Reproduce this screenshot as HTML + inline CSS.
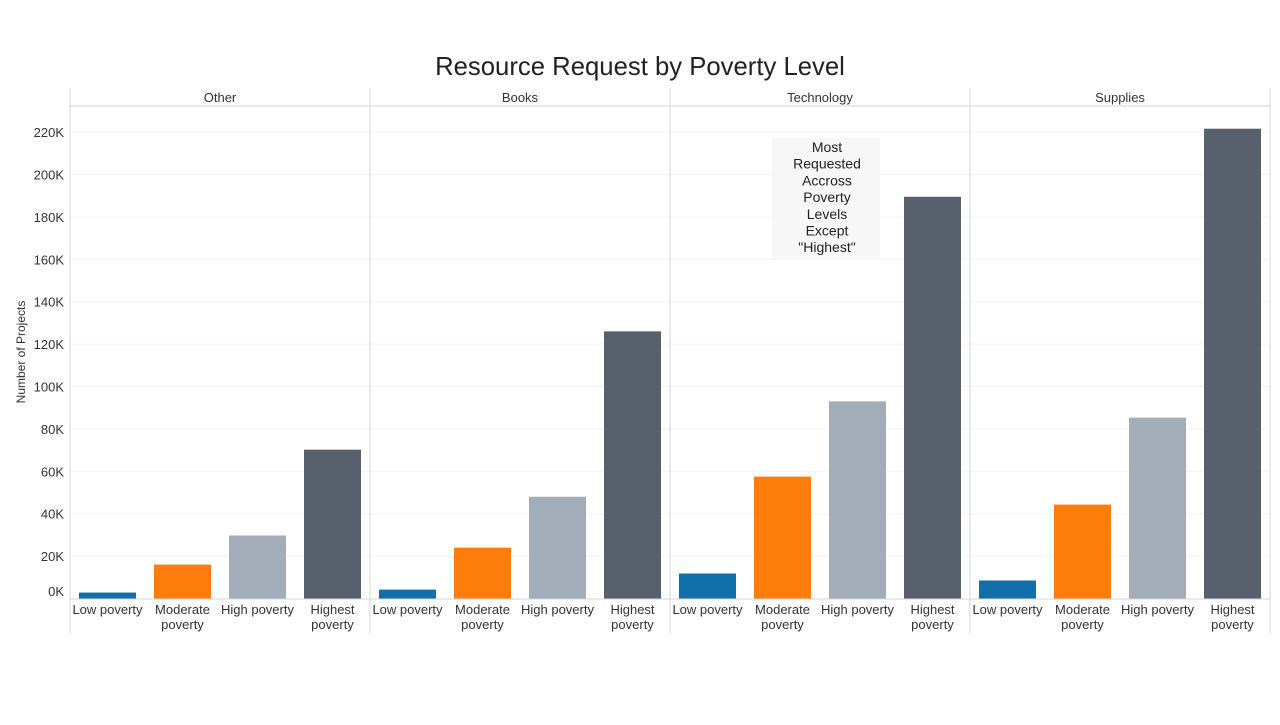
<!DOCTYPE html>
<html><head><meta charset="utf-8"><style>
body{margin:0;background:#fff;font-family:"Liberation Sans",Arial,sans-serif}
svg text{font-family:"Liberation Sans",Arial,sans-serif}
</style></head><body>
<svg id="c" width="1280" height="720" xmlns="http://www.w3.org/2000/svg">
<text x="640" y="75" text-anchor="middle" font-size="25.7" fill="#222">Resource Request by Poverty Level</text>
<text transform="translate(25,352) rotate(-90)" text-anchor="middle" font-size="12" fill="#333">Number of Projects</text>
<g id="grid"></g><g id="bars"></g><g id="frame"></g>
<g>
<rect x="772" y="138" width="108" height="122" fill="#f7f7f7"/>
<text x="827" y="152" text-anchor="middle" font-size="14" fill="#222">
<tspan x="827" dy="0">Most</tspan><tspan x="827" dy="16.7">Requested</tspan><tspan x="827" dy="16.7">Accross</tspan><tspan x="827" dy="16.7">Poverty</tspan><tspan x="827" dy="16.7">Levels</tspan><tspan x="827" dy="16.7">Except</tspan><tspan x="827" dy="16.7">"Highest"</tspan></text>
</g>
</svg>
<script>
const panels=["Other","Books","Technology","Supplies"];
const levels=["Low poverty","Moderate poverty","High poverty","Highest poverty"];
const other=[2.8,16,29.7,70.2];
const books=[4.2,24,48,126];
const technology=[11.8,57.5,93,189.5];
const supplies=[8.5,44.3,85.3,221.6];
const yTicks=[0,20,40,60,80,100,120,140,160,180,200,220];
const series=[other,books,technology,supplies];
const colors=["#1170aa","#fc7d0b","#a3acb9","#57606c"];
const NS="http://www.w3.org/2000/svg";
const y=v=>598.5-v*2.12;
const px=i=>70+i*300;
function mk(t,a,p){const e=document.createElementNS(NS,t);for(const k in a)e.setAttribute(k,a[k]);p.appendChild(e);return e;}
const g=document.getElementById('grid'),b=document.getElementById('bars'),f=document.getElementById('frame');
yTicks.forEach(t=>{
  if(t>0){const l=mk('line',{x1:70,x2:1270,y1:y(t),y2:y(t),stroke:'#f3f3f3','stroke-width':1},g);
  
  }
  const tx=mk('text',{x:64,y:t===0?596:y(t)+5,'text-anchor':'end','font-size':13,fill:'#333'},g);
  tx.textContent=t+'K';
  
  
});
panels.forEach((p,i)=>{
  const h=mk('text',{x:px(i)+150,y:102,'text-anchor':'middle','font-size':13,fill:'#333'},f);
  h.textContent=p;
  
  
  series[i].forEach((v,j)=>{
    const cx=px(i)+37.5+75*j;
    const r=mk('rect',{x:cx-28.5,y:y(v),width:57,height:598.5-y(v),fill:colors[j]},b);
    
    
    const words=levels[j].split(' ');
    const lt=mk('text',{x:cx,y:614,'text-anchor':'middle','font-size':13,fill:'#333'},f);
    
    
    if(j===0||j===2){lt.textContent=levels[j];}
    else{words.forEach((w,k)=>{const s=mk('tspan',{x:cx,dy:k?15:0},lt);s.textContent=w;});}
  });
});
mk('line',{x1:70,x2:1270,y1:106,y2:106,stroke:'#d4d4d4'},f);
mk('line',{x1:70,x2:1270,y1:599,y2:599,stroke:'#d4d4d4'},f);
[0,1,2,3,4].forEach(i=>mk('line',{x1:px(i),x2:px(i),y1:88,y2:633,stroke:'#d4d4d4'},f));
</script>
</body></html>
